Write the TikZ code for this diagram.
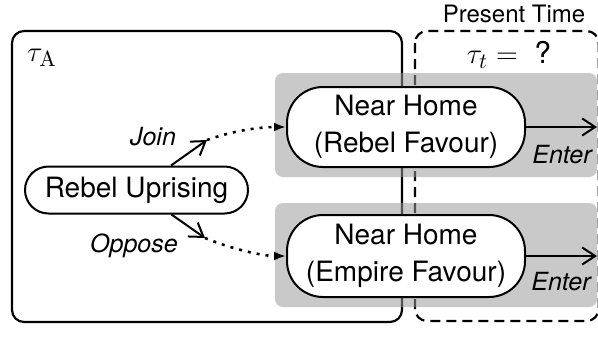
\documentclass[tikz,border=0pt]{standalone}
\usepackage[no-math]{fontspec}
\setmainfont{TeX Gyre Heros}
\usetikzlibrary{arrows.meta}

\begin{document}
\begin{tikzpicture}[x=0.5pt,y=-0.5pt,
  frame/.style={line width=1.1pt, rounded corners=6pt},
  dashframe/.style={frame, dash pattern=on 5pt off 3pt},
  band/.style={fill=black!40, fill opacity=0.53, rounded corners=4pt},
  state/.style={draw, fill=white, line width=1pt, align=center, inner sep=0pt,
    font=\fontsize{14}{18.5}\selectfont},
  act/.style={font=\fontsize{12.5}{15}\selectfont\itshape},
  move/.style={line width=1pt, -{Straight Barb[length=6.5pt,width=8.5pt]}},
  drift/.style={line width=1.3pt, dash pattern=on 1.5pt off 3pt,
    -{Latex[length=6pt,width=4.5pt]}},
]
\useasboundingbox (0,0) rectangle (598,343);

% time frames
\draw[frame] (12,31) rectangle (402,322);
\draw[dashframe] (415,31) rectangle (598.6,321);

% shaded rows
\fill[band] (275,73) rectangle (597,177);
\fill[band] (275,203) rectangle (597,307);

% frame labels
\node[font=\fontsize{15}{18}\selectfont] (ta) at (42,58) {$\tau_{\mathrm{A}}$};
\node[font=\fontsize{15}{18}\selectfont] (tt) at (509,55) {$\tau_t = {}$ ?};
\node[font=\fontsize{12}{14}\selectfont] (pt) at (514,13.5) {Present Time};

% states
\node[state, minimum width=111.5pt, minimum height=23.5pt, rounded corners=11.75pt]
  (ru) at (136.5,190) {Rebel Uprising};
\node[state, minimum width=119pt, minimum height=40pt, rounded corners=18pt]
  (nr) at (406,127) {Near Home\\(Rebel Favour)};
\node[state, minimum width=119pt, minimum height=41pt, rounded corners=18pt]
  (ne) at (406,256) {Near Home\\(Empire Favour)};

% transitions
\coordinate (jt) at (207,140);
\coordinate (ot) at (205,238);
\coordinate (ex1) at (597,127);
\coordinate (ex2) at (597,256);

\draw[move] (ru) -- (jt);
\draw[move] (ru) -- (ot);
\draw[drift] (jt) .. controls (235,130) and (262,127) .. (nr.west);
\draw[drift] (ot) .. controls (232,249) and (262,256) .. (ne.west);
\draw[move] (nr.east) -- (ex1);
\draw[move] (ne.east) -- (ex2);

\node[act] (lj) at (153,137) {Join};
\node[act] (lo) at (134,246) {Oppose};
\node[act] (le1) at (562,155) {Enter};
\node[act] (le2) at (561,282) {Enter};
\end{tikzpicture}
\end{document}
